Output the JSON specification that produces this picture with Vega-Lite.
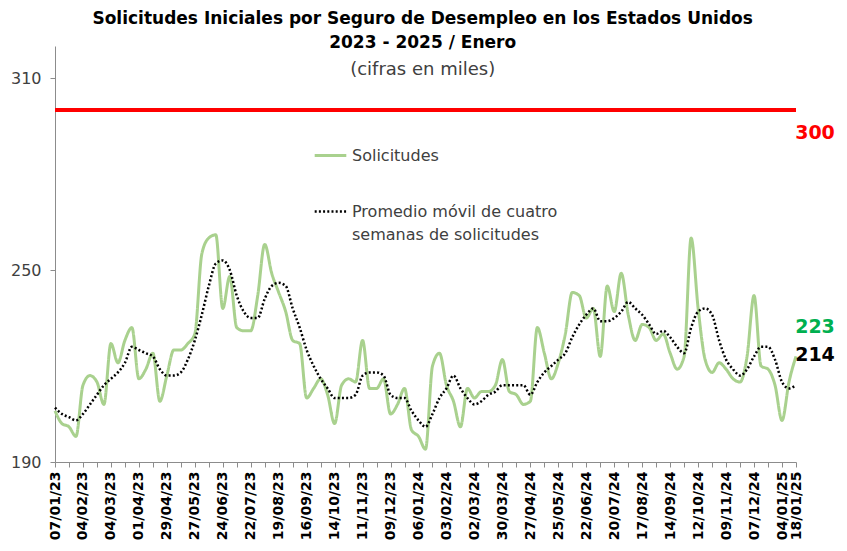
{
  "$schema": "https://vega.github.io/schema/vega-lite/v6.json",
  "width": 741,
  "height": 416,
  "padding": {"left": 10, "top": 10, "right": 3, "bottom": 3},
  "background": "white",
  "config": {"view": {"stroke": null}, "font": "DejaVu Sans"},
  "title": {
    "text": ["Solicitudes Iniciales por Seguro de Desempleo en los Estados Unidos", "2023 - 2025 / Enero"],
    "subtitle": "(cifras en miles)",
    "font": "DejaVu Sans", "fontSize": 17, "fontWeight": "bold", "lineHeight": 24, "color": "black",
    "subtitleFont": "DejaVu Sans", "subtitleFontSize": 18, "subtitleColor": "#404040", "subtitlePadding": 9,
    "anchor": "middle", "offset": -34, "frame": "bounds"
  },
  "data": {"values": [
    {"fecha":"07/01/23","sol":206,"prom":207},{"fecha":"14/01/23","sol":202,"prom":205},{"fecha":"21/01/23","sol":201,"prom":204},{"fecha":"28/01/23","sol":198,"prom":203},
    {"fecha":"04/02/23","sol":214,"prom":205},{"fecha":"11/02/23","sol":217,"prom":208},{"fecha":"18/02/23","sol":215,"prom":211},{"fecha":"25/02/23","sol":208,"prom":214},
    {"fecha":"04/03/23","sol":227,"prom":216},{"fecha":"11/03/23","sol":221,"prom":218},{"fecha":"18/03/23","sol":228,"prom":221},{"fecha":"25/03/23","sol":232,"prom":226},
    {"fecha":"01/04/23","sol":216,"prom":225},{"fecha":"08/04/23","sol":219,"prom":224},{"fecha":"15/04/23","sol":224,"prom":223},{"fecha":"22/04/23","sol":209,"prom":219},
    {"fecha":"29/04/23","sol":217,"prom":217},{"fecha":"06/05/23","sol":225,"prom":217},{"fecha":"13/05/23","sol":225,"prom":218},{"fecha":"20/05/23","sol":227,"prom":222},
    {"fecha":"27/05/23","sol":230,"prom":228},{"fecha":"03/06/23","sol":255,"prom":236},{"fecha":"10/06/23","sol":260,"prom":245},{"fecha":"17/06/23","sol":261,"prom":252},
    {"fecha":"24/06/23","sol":238,"prom":253},{"fecha":"01/07/23","sol":248,"prom":250},{"fecha":"08/07/23","sol":232,"prom":242},{"fecha":"15/07/23","sol":231,"prom":237},
    {"fecha":"22/07/23","sol":231,"prom":235},{"fecha":"29/07/23","sol":242,"prom":235},{"fecha":"05/08/23","sol":258,"prom":241},{"fecha":"12/08/23","sol":249,"prom":245},
    {"fecha":"19/08/23","sol":243,"prom":246},{"fecha":"26/08/23","sol":237,"prom":245},{"fecha":"02/09/23","sol":228,"prom":238},{"fecha":"09/09/23","sol":227,"prom":232},
    {"fecha":"16/09/23","sol":210,"prom":225},{"fecha":"23/09/23","sol":213,"prom":220},{"fecha":"30/09/23","sol":216,"prom":216},{"fecha":"07/10/23","sol":211,"prom":213},
    {"fecha":"14/10/23","sol":202,"prom":210},{"fecha":"21/10/23","sol":214,"prom":210},{"fecha":"28/10/23","sol":216,"prom":210},{"fecha":"04/11/23","sol":215,"prom":211},
    {"fecha":"11/11/23","sol":228,"prom":217},{"fecha":"18/11/23","sol":213,"prom":218},{"fecha":"25/11/23","sol":213,"prom":218},{"fecha":"02/12/23","sol":216,"prom":217},
    {"fecha":"09/12/23","sol":205,"prom":211},{"fecha":"16/12/23","sol":208,"prom":210},{"fecha":"23/12/23","sol":213,"prom":210},{"fecha":"30/12/23","sol":200,"prom":206},
    {"fecha":"06/01/24","sol":198,"prom":203},{"fecha":"13/01/24","sol":194,"prom":201},{"fecha":"20/01/24","sol":220,"prom":205},{"fecha":"27/01/24","sol":224,"prom":210},
    {"fecha":"03/02/24","sol":214,"prom":213},{"fecha":"10/02/24","sol":209,"prom":217},{"fecha":"17/02/24","sol":201,"prom":213},{"fecha":"24/02/24","sol":213,"prom":210},
    {"fecha":"02/03/24","sol":210,"prom":208},{"fecha":"09/03/24","sol":212,"prom":209},{"fecha":"16/03/24","sol":212,"prom":211},{"fecha":"23/03/24","sol":214,"prom":212},
    {"fecha":"30/03/24","sol":222,"prom":214},{"fecha":"06/04/24","sol":212,"prom":214},{"fecha":"13/04/24","sol":211,"prom":214},{"fecha":"20/04/24","sol":208,"prom":214},
    {"fecha":"27/04/24","sol":209,"prom":211},{"fecha":"04/05/24","sol":232,"prom":215},{"fecha":"11/05/24","sol":224,"prom":218},{"fecha":"18/05/24","sol":216,"prom":220},
    {"fecha":"25/05/24","sol":221,"prom":222},{"fecha":"01/06/24","sol":230,"prom":224},{"fecha":"08/06/24","sol":243,"prom":229},{"fecha":"15/06/24","sol":242,"prom":233},
    {"fecha":"22/06/24","sol":235,"prom":236},{"fecha":"29/06/24","sol":238,"prom":238},{"fecha":"06/07/24","sol":223,"prom":234},{"fecha":"13/07/24","sol":245,"prom":234},
    {"fecha":"20/07/24","sol":237,"prom":235},{"fecha":"27/07/24","sol":249,"prom":237},{"fecha":"03/08/24","sol":236,"prom":240},{"fecha":"10/08/24","sol":228,"prom":238},
    {"fecha":"17/08/24","sol":233,"prom":236},{"fecha":"24/08/24","sol":232,"prom":233},{"fecha":"31/08/24","sol":228,"prom":230},{"fecha":"07/09/24","sol":230,"prom":231},
    {"fecha":"14/09/24","sol":224,"prom":229},{"fecha":"21/09/24","sol":219,"prom":226},{"fecha":"28/09/24","sol":223,"prom":224},{"fecha":"05/10/24","sol":260,"prom":232},
    {"fecha":"12/10/24","sol":238,"prom":237},{"fecha":"19/10/24","sol":222,"prom":238},{"fecha":"26/10/24","sol":218,"prom":236},{"fecha":"02/11/24","sol":221,"prom":228},
    {"fecha":"09/11/24","sol":219,"prom":222},{"fecha":"16/11/24","sol":216,"prom":219},{"fecha":"23/11/24","sol":215,"prom":217},{"fecha":"30/11/24","sol":223,"prom":219},
    {"fecha":"07/12/24","sol":242,"prom":223},{"fecha":"14/12/24","sol":220,"prom":226},{"fecha":"21/12/24","sol":219,"prom":226},{"fecha":"28/12/24","sol":214,"prom":222},
    {"fecha":"04/01/25","sol":203,"prom":215},{"fecha":"11/01/25","sol":215,"prom":213},{"fecha":"18/01/25","sol":223,"prom":214}
  ]},
  "encoding": {
    "x": {
      "field": "fecha", "type": "ordinal", "sort": null, "title": null,
      "scale": {"type": "point", "padding": 0},
      "axis": {
        "values": ["07/01/23","21/01/23","04/02/23","18/02/23","04/03/23","18/03/23","01/04/23","15/04/23","29/04/23","13/05/23","27/05/23","10/06/23","24/06/23","08/07/23","22/07/23","05/08/23","19/08/23","02/09/23","16/09/23","30/09/23","14/10/23","28/10/23","11/11/23","25/11/23","09/12/23","23/12/23","06/01/24","20/01/24","03/02/24","17/02/24","02/03/24","16/03/24","30/03/24","13/04/24","27/04/24","11/05/24","25/05/24","08/06/24","22/06/24","06/07/24","20/07/24","03/08/24","17/08/24","31/08/24","14/09/24","28/09/24","12/10/24","26/10/24","09/11/24","23/11/24","07/12/24","21/12/24","04/01/25","18/01/25"],
        "labelExpr": "indexof(['07/01/23','04/02/23','04/03/23','01/04/23','29/04/23','27/05/23','24/06/23','22/07/23','19/08/23','16/09/23','14/10/23','11/11/23','09/12/23','06/01/24','03/02/24','02/03/24','30/03/24','27/04/24','25/05/24','22/06/24','20/07/24','17/08/24','14/09/24','12/10/24','09/11/24','07/12/24','04/01/25','18/01/25'], datum.value) >= 0 ? datum.value : ''",
        "labelAngle": 270, "labelAlign": "right", "labelBaseline": "middle",
        "labelFont": "DejaVu Sans", "labelFontSize": 14, "labelFontWeight": "bold", "labelColor": "black",
        "labelOverlap": false, "labelPadding": 4, "labelFlush": false,
        "tickSize": 5, "tickColor": "#8c8c8c", "domainColor": "#8c8c8c", "grid": false
      }
    }
  },
  "layer": [
    {
      "mark": {"type": "rule", "color": "#FF0000", "strokeWidth": 3},
      "encoding": {
        "x": null,
        "y": {"datum": 300, "type": "quantitative", "scale": {"domain": [190, 320], "nice": false, "zero": false},
          "axis": {"values": [190, 250, 310], "title": null, "grid": false, "labelFont": "DejaVu Sans", "labelFontSize": 16, "labelColor": "#404040", "tickSize": 5, "tickColor": "#8c8c8c", "domainColor": "#8c8c8c", "labelPadding": 9}}
      }
    },
    {
      "transform": [{"fold": ["sol", "prom"], "as": ["serie", "valor"]}],
      "mark": {"type": "line", "interpolate": "monotone"},
      "encoding": {
        "y": {"field": "valor", "type": "quantitative", "title": null},
        "color": {"field": "serie", "type": "nominal", "sort": ["sol", "prom"],
          "scale": {"domain": ["sol", "prom"], "range": ["#A9D18E", "#000000"]},
          "legend": {"title": null, "orient": "none", "legendX": 258, "legendY": 92, "symbolType": "stroke", "symbolSize": 1000, "symbolStrokeWidth": 3,
            "labelFont": "DejaVu Sans", "labelFontSize": 16, "labelColor": "#404040", "labelLimit": 400, "labelOffset": 4, "rowPadding": 30,
            "labelExpr": "datum.value == 'sol' ? 'Solicitudes' : ['Promedio móvil de cuatro', 'semanas de solicitudes']",
            "encode": {"labels": {"update": {"lineHeight": {"value": 23}}}}}},
        "strokeDash": {"field": "serie", "type": "nominal", "sort": ["sol", "prom"],
          "scale": {"domain": ["sol", "prom"], "range": [[1, 0], [2, 2.2]]}},
        "strokeWidth": {"field": "serie", "type": "nominal", "scale": {"domain": ["sol", "prom"], "range": [3, 2.5]}, "legend": null}
      }
    },
    {
      "transform": [{"filter": "datum.fecha == '18/01/25'"}],
      "mark": {"type": "text", "color": "#FF0000", "font": "DejaVu Sans", "fontSize": 19, "fontWeight": "bold", "dx": 19, "dy": 23, "align": "center", "baseline": "middle"},
      "encoding": {"y": {"datum": 300, "type": "quantitative"}, "text": {"value": "300"}}
    },
    {
      "transform": [{"filter": "datum.fecha == '18/01/25'"}],
      "mark": {"type": "text", "color": "#00B050", "font": "DejaVu Sans", "fontSize": 19, "fontWeight": "bold", "dx": 19, "dy": -29, "align": "center", "baseline": "middle"},
      "encoding": {"y": {"field": "sol", "type": "quantitative", "title": null}, "text": {"field": "sol", "type": "quantitative"}}
    },
    {
      "transform": [{"filter": "datum.fecha == '18/01/25'"}],
      "mark": {"type": "text", "color": "#000000", "font": "DejaVu Sans", "fontSize": 19, "fontWeight": "bold", "dx": 19, "dy": -30, "align": "center", "baseline": "middle"},
      "encoding": {"y": {"field": "prom", "type": "quantitative", "title": null}, "text": {"field": "prom", "type": "quantitative"}}
    }
  ]
}
